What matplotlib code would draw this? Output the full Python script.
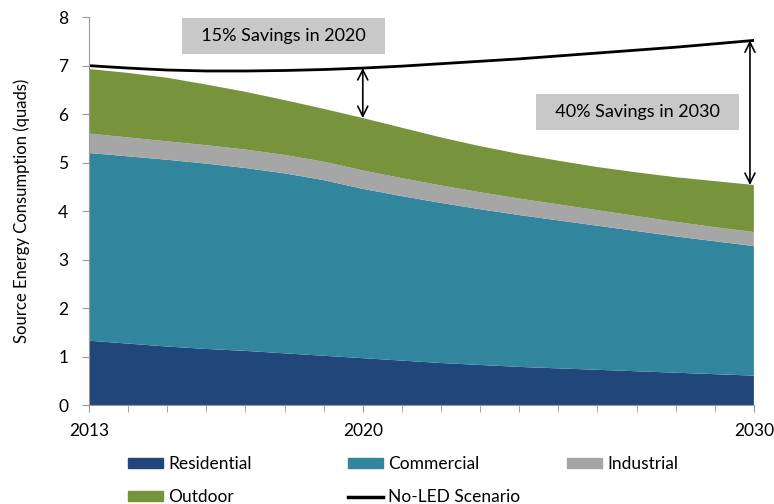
import matplotlib.pyplot as plt
from matplotlib.patches import Patch
from matplotlib.lines import Line2D

plt.rcParams['font.family'] = ['Lato', 'DejaVu Sans']

years = list(range(2013, 2031))
residential = [1.33, 1.27, 1.21, 1.16, 1.12, 1.07, 1.02, 0.97, 0.92, 0.87,
               0.83, 0.79, 0.76, 0.73, 0.70, 0.67, 0.64, 0.61]
commercial_top = [5.20, 5.13, 5.06, 4.98, 4.89, 4.78, 4.64, 4.46, 4.31, 4.17,
                  4.04, 3.92, 3.81, 3.70, 3.59, 3.48, 3.38, 3.28]
industrial_top = [5.60, 5.52, 5.44, 5.36, 5.27, 5.16, 5.02, 4.84, 4.68, 4.53,
                  4.39, 4.26, 4.14, 4.02, 3.90, 3.78, 3.67, 3.57]
outdoor_top = [6.93, 6.85, 6.75, 6.61, 6.46, 6.29, 6.11, 5.92, 5.72, 5.52,
               5.34, 5.18, 5.04, 4.91, 4.80, 4.70, 4.62, 4.54]
no_led = [7.00, 6.95, 6.91, 6.89, 6.89, 6.90, 6.92, 6.95, 6.99, 7.04,
          7.09, 7.14, 7.20, 7.26, 7.32, 7.38, 7.45, 7.52]

commercial = [c - r for c, r in zip(commercial_top, residential)]
industrial = [i - c for i, c in zip(industrial_top, commercial_top)]
outdoor = [o - i for o, i in zip(outdoor_top, industrial_top)]

colors = ['#21477A', '#31869D', '#A6A6A6', '#77933C']

fig = plt.figure(figsize=(7.74, 5.04), dpi=100)
ax = fig.add_axes([0.115, 0.196, 0.859, 0.770])

ax.stackplot(years, residential, commercial, industrial, outdoor, colors=colors)
ax.plot(years, no_led, color='black', lw=2.0)

ax.set_xlim(2013, 2030)
ax.set_ylim(0, 8)
ax.set_xticks([2013, 2020, 2030])
ax.set_xticks(years, minor=True)
ax.tick_params(axis='x', which='both', length=5, color='#999999', labelsize=12.5, pad=8)
ax.tick_params(axis='y', length=5, color='#999999', labelsize=12.5, pad=10)
for s in ['top', 'right']:
    ax.spines[s].set_visible(False)
for s in ['left', 'bottom']:
    ax.spines[s].set_color('#999999')
ax.set_ylabel('Source Energy Consumption (quads)', fontsize=12, labelpad=20)

# savings arrows
ax.annotate('', xy=(2020, outdoor_top[7]), xytext=(2020, no_led[7]),
            arrowprops=dict(arrowstyle='<->', color='black', lw=1.2, mutation_scale=18,
                            shrinkA=0, shrinkB=0))
ax.annotate('', xy=(2029.9, outdoor_top[-1]), xytext=(2029.9, no_led[-1]),
            arrowprops=dict(arrowstyle='<->', color='black', lw=1.2, mutation_scale=18,
                            shrinkA=0, shrinkB=0))

box = dict(boxstyle='square,pad=0.55', fc='#C8C8C8', ec='none')
ax.text(2017.98, 7.61, '  15% Savings in 2020  ', fontsize=13, ha='center', va='center', bbox=box)
ax.text(2027.02, 6.05, '  40% Savings in 2030  ', fontsize=13, ha='center', va='center', bbox=box)

labels = ['Residential', 'Commercial', 'Industrial', 'Outdoor']
handles = [Patch(color=c, label=l) for c, l in zip(colors, labels)]
line_h = Line2D([], [], color='black', lw=2.5, label='No-LED Scenario')
columns = [([handles[0], handles[3]], 128), ([handles[1], line_h], 348), ([handles[2]], 567)]
for hs, xpix in columns:
    leg = fig.legend(handles=hs, loc='upper left', bbox_to_anchor=(xpix / 774, 1 - 456 / 504),
                     frameon=False, fontsize=12.5, handlelength=2.0, handleheight=0.5,
                     handletextpad=0.3, labelspacing=1.0, borderpad=0, borderaxespad=0)

fig.savefig('out.png', dpi=100)
